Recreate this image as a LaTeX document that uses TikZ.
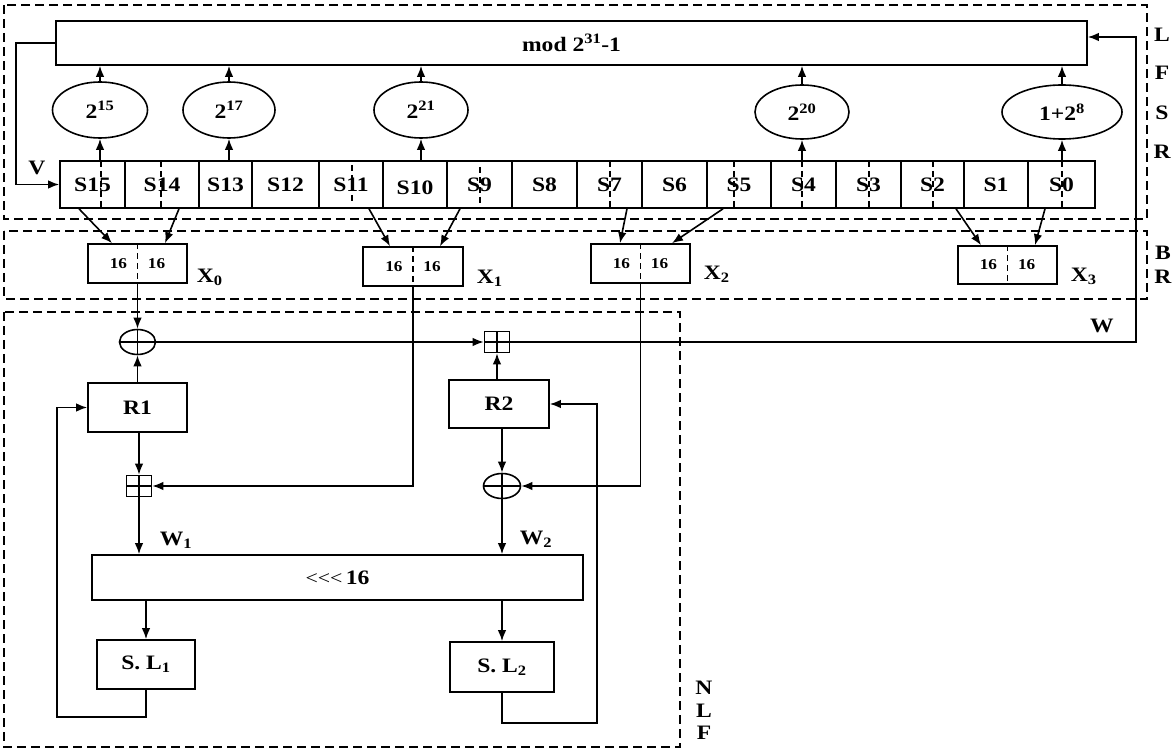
\documentclass[tikz,border=0pt]{standalone}
\usepackage{fontspec}
\setmainfont{Liberation Serif}[FakeStretch=1.15]
\usetikzlibrary{arrows.meta,shapes.geometric,calc}
\begin{document}
\begin{tikzpicture}[x=1pt,y=-1pt,line width=1.6pt,
  font=\fontsize{20.5}{24}\selectfont\bfseries,
  arr/.style={-{Latex[length=11pt,width=8.5pt]}},
  blk/.style={draw, inner sep=0pt, align=center},
  cell/.style={blk, minimum height=47},
  regdiv/.style={dash pattern=on 6pt off 4pt, line width=1.3pt},
  region/.style={draw, dash pattern=on 9pt off 5pt, line width=1.4pt},
  oval/.style={draw, ellipse, inner sep=0pt},
  xbox/.style={blk, minimum width=99, minimum height=39, font=\fontsize{15}{17}\selectfont\bfseries},
  xorop/.style={draw, ellipse, inner sep=0pt, minimum width=36, minimum height=25,
    path picture={\draw (path picture bounding box.north) -- (path picture bounding box.south)
      (path picture bounding box.west) -- (path picture bounding box.east);}},
  addop/.style={draw, inner sep=0pt, minimum width=25, minimum height=21,
    path picture={\draw (path picture bounding box.north) -- (path picture bounding box.south)
      (path picture bounding box.west) -- (path picture bounding box.east);}},
  lab/.style={inner sep=0pt}
]
\useasboundingbox (0,0) rectangle (1173,751);

% regions
\draw[region] (4,5) rectangle (1147,219);
\draw[region] (4,231) rectangle (1147,299);
\draw[region] (4,312) rectangle (680,747);

% side labels
\node[lab] (lL) at (1162,35) {L};
\node[lab] (lF) at (1162,73) {F};
\node[lab] (lS) at (1162,113) {S};
\node[lab] (lR) at (1162,152) {R};
\node[lab] (lB) at (1163,253) {B};
\node[lab] (lR2) at (1163,277) {R};
\node[lab] (nN) at (704,688) {N};
\node[lab] (nL) at (704,711) {L};
\node[lab] (nF) at (704,733) {F};

% mod box
\node[blk, minimum width=1031, minimum height=44] (mod) at (571.5,43) {mod 2\textsuperscript{31}-1};

% register
\node[cell, minimum width=65] (s15) at (92.5,184.5) {S15};
\node[cell, minimum width=74] (s14) at (162,184.5) {S14};
\node[cell, minimum width=53] (s13) at (225.5,184.5) {S13};
\node[cell, minimum width=67] (s12) at (285.5,184.5) {S12};
\node[cell, minimum width=64] (s11) at (351,184.5) {S11};
\node[cell, minimum width=64] (s10) at (415,184.5) {};
\node[lab] (s10t) at (415,188) {S10};
\node[cell, minimum width=65] (s9) at (479.5,184.5) {S9};
\node[cell, minimum width=65] (s8) at (544.5,184.5) {S8};
\node[cell, minimum width=65] (s7) at (609.5,184.5) {S7};
\node[cell, minimum width=65] (s6) at (674.5,184.5) {S6};
\node[cell, minimum width=64] (s5) at (739,184.5) {S5};
\node[cell, minimum width=65] (s4) at (803.5,184.5) {S4};
\node[cell, minimum width=65] (s3) at (868.5,184.5) {S3};
\node[cell, minimum width=63] (s2) at (932.5,184.5) {S2};
\node[cell, minimum width=64] (s1) at (996,184.5) {S1};
\node[cell, minimum width=67] (s0) at (1061.5,184.5) {S0};

% dashed dividers inside cells
\draw[regdiv] (101,161) -- (101,208);
\draw[regdiv] (161,161) -- (161,208);
\draw[regdiv] (352,165) -- (352,203);
\draw[regdiv] (480,167) -- (480,206);
\draw[regdiv] (610,161) -- (610,208);
\draw[regdiv] (734,161) -- (734,208);
\draw[regdiv] (802,161) -- (802,208);
\draw[regdiv] (869,161) -- (869,208);
\draw[regdiv] (933,161) -- (933,208);
\draw[regdiv] (1062,161) -- (1062,208);

% ellipses
\node[oval, minimum width=95, minimum height=56] (e15) at (100,110) {2\textsuperscript{15}};
\node[oval, minimum width=92, minimum height=56] (e17) at (229,110) {2\textsuperscript{17}};
\node[oval, minimum width=94, minimum height=56] (e21) at (421,110) {2\textsuperscript{21}};
\node[oval, minimum width=94, minimum height=54] (e20) at (802,112) {2\textsuperscript{20}};
\node[oval, minimum width=120, minimum height=54] (e8) at (1062,112) {1+2\textsuperscript{8}};

\foreach \e/\s in {e15/s15,e17/s13,e21/s10,e20/s4,e8/s0}{
  \draw[arr] (\s.north -| \e.south) -- (\e.south);
  \draw[arr] (\e.north) -- (\e.north |- mod.south);
}

% V feedback
\node[lab] (vlab) at (37,168) {V};
\coordinate (vc) at (16,43);
\draw[arr] (mod.west) -- (vc) |- (s15.west);

% BR boxes
\node[xbox] (x0) at (137.5,263.5) {16\hspace{21pt}16};
\node[xbox, minimum width=100] (x1) at (413,266.5) {16\hspace{21pt}16};
\node[xbox] (x2) at (640.5,263.5) {16\hspace{21pt}16};
\node[xbox, minimum height=38] (x3) at (1007.5,265) {16\hspace{21pt}16};
\foreach \b in {x0,x1,x2,x3}{\draw[regdiv] (\b.north) -- (\b.south);}
\node[lab, anchor=west] (x0l) at (196,277) {X\textsubscript{0}};
\node[lab, anchor=west] (x1l) at (476,278) {X\textsubscript{1}};
\node[lab, anchor=west] (x2l) at (703,274) {X\textsubscript{2}};
\node[lab, anchor=west] (x3l) at (1070,276) {X\textsubscript{3}};

\draw[arr] ($(s15.south)+(-13.5,0)$) -- ($(x0.north)+(-25.5,0)$);
\draw[arr] ($(s14.south)+(17,0)$) -- ($(x0.north)+(27.5,0)$);
\draw[arr] ($(s11.south)+(18,0)$) -- ($(x1.north)+(-23,0)$);
\draw[arr] ($(s9.south)+(-19.5,0)$) -- ($(x1.north)+(27,0)$);
\draw[arr] ($(s7.south)+(17.5,0)$) -- ($(x2.north)+(-20.5,0)$);
\draw[arr] ($(s5.south)+(-16,0)$) -- ($(x2.north)+(31.5,0)$);
\draw[arr] ($(s2.south)+(23.5,0)$) -- ($(x3.north)+(-26.5,0)$);
\draw[arr] ($(s0.south)+(-16.5,0)$) -- ($(x3.north)+(27.5,0)$);

% NLF
\node[xorop] (op1) at (137.5,342) {};
\node[addop] (bp1) at (497,342) {};
\node[blk, minimum width=99, minimum height=49] (r1) at (137.5,407.5) {R1};
\node[blk, minimum width=100, minimum height=48] (r2) at (499,404) {R2};
\node[addop] (bp2) at (139,486) {};
\node[xorop, minimum width=37] (op2) at (502,486) {};
\node[blk, minimum width=491, minimum height=45] (sh) at (337.5,577.5)
  {{\mdseries\fontsize{19}{19}\selectfont \char60\kern0pt\char60\kern0pt\char60}\,16};
\node[blk, minimum width=98, minimum height=49] (sl1) at (146,664.5) {S. L\textsubscript{1}};
\node[blk, minimum width=104, minimum height=50] (sl2) at (502,667) {S. L\textsubscript{2}};

\draw[arr] (x0.south) -- (op1.north);
\draw[arr] (r1.north) -- (op1.south);
\draw[arr] (op1.east) -- (bp1.west);
\draw[arr] (r2.north -| bp1.south) -- (bp1.south);
\node[lab] (wlab) at (1102,326) {W};
\coordinate (wc) at (1136,342);
\draw[arr] (bp1.east) -- (wc) |- ([yshift=6pt]mod.east);

\draw[arr] (x1.south) |- (bp2.east);
\draw[arr] (x2.south) |- (op2.east);
\draw[arr] (r1.south -| bp2.north) -- (bp2.north);
\draw[arr] (r2.south -| op2.north) -- (op2.north);
\draw[arr] (bp2.south) -- (bp2.south |- sh.north);
\draw[arr] (op2.south) -- (op2.south |- sh.north);
\node[lab] (w1) at (176,540) {W\textsubscript{1}};
\node[lab] (w2) at (536,539) {W\textsubscript{2}};

\draw[arr] (sh.south -| sl1.north) -- (sl1.north);
\draw[arr] (sh.south -| sl2.north) -- (sl2.north);

\coordinate (fb1) at (57,717);
\coordinate (fb2) at (597,723);
\draw[arr] (sl1.south) |- (fb1) |- (r1.west);
\draw[arr] (sl2.south) |- (fb2) |- (r2.east);
\end{tikzpicture}
\end{document}
